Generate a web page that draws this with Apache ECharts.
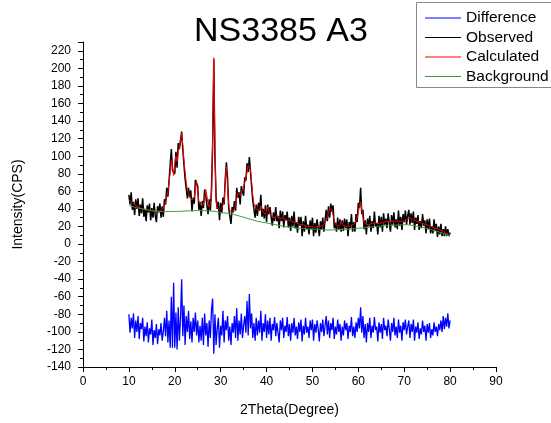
<!DOCTYPE html>
<html>
<head>
<meta charset="utf-8">
<script src="https://cdn.jsdelivr.net/npm/echarts@6/dist/echarts.min.js"></script>
<style>
html,body{margin:0;padding:0;background:#fff;}
#chart{width:551px;height:423px;}
</style>
</head>
<body>
<div id="chart"></div>
<script>
// 2Theta sampling grid: 10 to 80 degrees, step 0.25
const twoThetaStart = 10;
const twoThetaStep = 0.25;
const twoThetaCount = 281;

const observed = [56,45,59,39,48,33,51,40,52,32,45,35,52,31,40,26,44,36,46,27,
41,30,47,32,25,43,36,46,30,43,31,51,45,64,54,72,73,108,84,86,
80,105,87,115,108,107,128,107,107,74,73,52,64,53,61,37,53,46,73,69,
66,39,48,32,49,41,62,55,56,34,51,38,63,112,210,100,53,40,48,27,
47,35,53,45,74,93,75,41,40,23,42,36,49,38,64,53,59,45,66,60,
55,76,72,92,82,99,82,81,49,47,30,45,32,47,38,56,31,40,29,44,
25,45,34,42,31,21,36,26,42,26,32,18,38,26,37,19,33,27,37,19,
30,15,32,20,37,18,25,13,31,21,31,9,26,14,32,17,22,11,27,17,
30,9,24,13,28,19,9,26,16,30,14,27,39,26,43,30,46,37,44,18,
24,14,30,16,28,14,27,15,29,18,28,9,25,18,34,14,25,14,34,25,
47,41,64,34,39,17,27,11,29,20,32,14,26,18,37,20,24,11,32,19,
31,14,35,22,29,18,35,24,14,33,22,36,19,28,17,38,21,31,16,34,
25,38,22,32,39,22,35,24,37,16,30,23,33,16,26,18,34,21,27,12,
28,17,29,12,20,12,28,15,23,8,20,11,23,9,17,9,20,9,17,9,13];

const calculated = [50,49,48,47,46,45,44,43,43,42,41,41,40,40,39,39,39,38,38,38,
38,37,37,37,37,37,37,37,38,39,41,44,48,53,60,70,82,95,88,78,
92,100,94,105,110,118,126,112,95,82,70,62,57,54,52,50,49,52,62,72,
58,48,46,44,43,45,52,62,55,45,42,43,50,120,212,110,48,42,40,39,
40,41,42,48,70,88,65,45,38,36,36,37,40,45,52,58,56,55,58,62,
66,70,76,82,90,92,85,70,55,46,42,40,39,38,40,44,40,36,34,34,
36,42,40,34,32,31,30,30,31,33,30,30,29,29,30,28,28,28,27,27,
27,26,26,25,25,24,24,23,23,23,22,22,22,21,21,21,20,20,20,20,
20,20,19,19,20,20,21,20,20,21,22,24,27,31,36,40,42,39,33,27,
23,21,20,20,22,26,24,21,20,20,21,20,20,21,22,22,23,24,26,30,
36,44,48,40,30,25,23,22,22,22,22,23,23,24,25,24,23,23,24,24,
25,24,24,25,25,26,26,25,25,26,26,26,26,26,26,26,26,26,26,26,
27,27,28,29,30,30,29,28,27,27,26,26,25,25,24,24,23,23,22,22,
21,21,20,20,19,19,18,18,17,17,16,16,15,15,14,13,13,12,12,11,11];

const difference = [-80,-101,-84,-96,-79,-107,-87,-100,-82,-108,-90,-97,-84,-111,-94,-105,-89,-112,-96,-103,
-86,-115,-98,-107,-91,-114,-97,-104,-90,-110,-100,-84,-105,-76,-112,-87,-118,-60,-118,-44,
-118,-78,-120,-72,-110,-85,-40,-105,-70,-115,-82,-100,-76,-108,-88,-112,-84,-100,-78,-104,
-87,-112,-93,-110,-84,-115,-79,-104,-90,-117,-87,-107,-75,-62,-125,-80,-115,-96,-84,-118,
-93,-104,-76,-112,-87,-98,-82,-110,-94,-115,-90,-101,-82,-107,-73,-110,-87,-103,-79,-107,
-93,-82,-101,-65,-104,-57,-96,-79,-107,-90,-110,-84,-104,-87,-101,-76,-110,-90,-100,-80,
-107,-87,-103,-84,-110,-91,-98,-83,-105,-90,-101,-112,-87,-98,-84,-107,-93,-100,-83,-105,
-91,-110,-90,-101,-84,-104,-94,-108,-89,-100,-86,-111,-93,-103,-84,-101,-94,-107,-87,-98,
-86,-110,-91,-101,-87,-97,-111,-90,-100,-86,-105,-93,-82,-103,-87,-107,-90,-98,-84,-108,
-94,-103,-86,-100,-91,-110,-94,-104,-87,-98,-90,-108,-93,-100,-83,-105,-94,-107,-89,-100,
-84,-96,-72,-101,-82,-107,-91,-112,-90,-100,-84,-107,-93,-101,-83,-98,-94,-111,-89,-101,
-91,-108,-84,-98,-93,-105,-86,-97,-110,-90,-100,-84,-104,-94,-107,-86,-101,-93,-110,-89,
-98,-86,-103,-94,-87,-107,-91,-100,-86,-110,-94,-101,-89,-108,-96,-103,-87,-100,-93,-110,
-91,-101,-90,-107,-97,-104,-89,-100,-94,-105,-91,-98,-87,-100,-82,-97,-84,-94,-79,-96,-87];

const backgroundX = [10,12,14,16,18,20,22,24,26,28,30,32,34,36,38,40,42,44,46,48,50,52,54,56,58,60,62,64,66,68,70,72,74,76,78,80];
const backgroundY = [44,41,39,37.5,37,37,37.5,38,38,37.5,36,34.5,32,29,26,24,22,20,18.5,17.5,17,16.5,16,16.5,17,18,19,20,21,21.5,22,21,19,16,13,9];

const xTicks = {min: 0, max: 90, interval: 10};
const yTicks = {min: -140, max: 230, interval: 20, lastLabel: 220};

const twoTheta = [];
for (let i = 0; i < twoThetaCount; i++) twoTheta.push(+(twoThetaStart + i * twoThetaStep).toFixed(2));
const pairs = (xs, ys) => ys.map((v, i) => [xs[i], v]);

const chart = echarts.init(document.getElementById('chart'), null, {renderer: 'canvas'});
const font = 'Liberation Sans, Arial, sans-serif';
chart.setOption({
  animation: false,
  backgroundColor: '#fff',
  title: {
    text: 'NS3385 A3', left: 276, top: 10, textAlign: 'center',
    textStyle: {fontFamily: font, fontSize: 34, fontWeight: 'normal', color: '#000'}
  },
  graphic: [{
    type: 'rect', z: -1, silent: true,
    shape: {x: 416.5, y: 2.5, width: 160, height: 85},
    style: {fill: 'none', stroke: '#888', lineWidth: 1}
  }],
  legend: {
    orient: 'vertical', left: 416, top: 2,
    data: ['Difference', 'Observed', 'Calculated', 'Background'],
    icon: 'rect', itemWidth: 36, itemHeight: 1, itemGap: 3.5,
    padding: [8, 10, 3, 9],
    textStyle: {fontFamily: font, fontSize: 15.5, color: '#000', lineHeight: 16}
  },
  grid: {left: 83, right: 55, top: 42, bottom: 56, containLabel: false},
  xAxis: {
    type: 'value', min: xTicks.min, max: xTicks.max, interval: xTicks.interval,
    name: '2Theta(Degree)', nameLocation: 'middle', nameGap: 36,
    nameTextStyle: {fontFamily: font, fontSize: 14, color: '#000'},
    axisLine: {onZero: false, lineStyle: {color: '#000', width: 1}},
    axisTick: {length: 5, lineStyle: {color: '#000'}},
    minorTick: {show: true, splitNumber: 2, length: 3, lineStyle: {color: '#000'}},
    axisLabel: {fontFamily: font, fontSize: 12, color: '#000', margin: 9},
    splitLine: {show: false}
  },
  yAxis: {
    type: 'value', min: yTicks.min, max: yTicks.max, interval: yTicks.interval,
    name: 'Intensity(CPS)', nameLocation: 'middle', nameGap: 58, nameRotate: 90,
    nameTextStyle: {fontFamily: font, fontSize: 14, color: '#000'},
    axisLine: {show: true, onZero: false, lineStyle: {color: '#000', width: 1}},
    axisTick: {show: true, length: 5, lineStyle: {color: '#000'}},
    minorTick: {show: true, splitNumber: 2, length: 3, lineStyle: {color: '#000'}},
    axisLabel: {fontFamily: font, fontSize: 12, color: '#000', margin: 12,
      formatter: v => (v > yTicks.lastLabel ? '' : String(v))},
    splitLine: {show: false}
  },
  series: [
    {name: 'Observed', type: 'line', data: pairs(twoTheta, observed), symbol: 'none',
     lineStyle: {color: '#000', width: 1.5}, itemStyle: {color: '#000'}},
    {name: 'Calculated', type: 'line', data: pairs(twoTheta, calculated), symbol: 'none',
     lineStyle: {color: '#ff0000', width: 1}, itemStyle: {color: '#ff0000'}},
    {name: 'Background', type: 'line', data: pairs(backgroundX, backgroundY), symbol: 'none', smooth: true,
     lineStyle: {color: '#3a9a3a', width: 1}, itemStyle: {color: '#3a9a3a'}},
    {name: 'Difference', type: 'line', data: pairs(twoTheta, difference), symbol: 'none',
     lineStyle: {color: '#0000ff', width: 1.3}, itemStyle: {color: '#0000ff'}}
  ]
});
</script>
</body>
</html>
